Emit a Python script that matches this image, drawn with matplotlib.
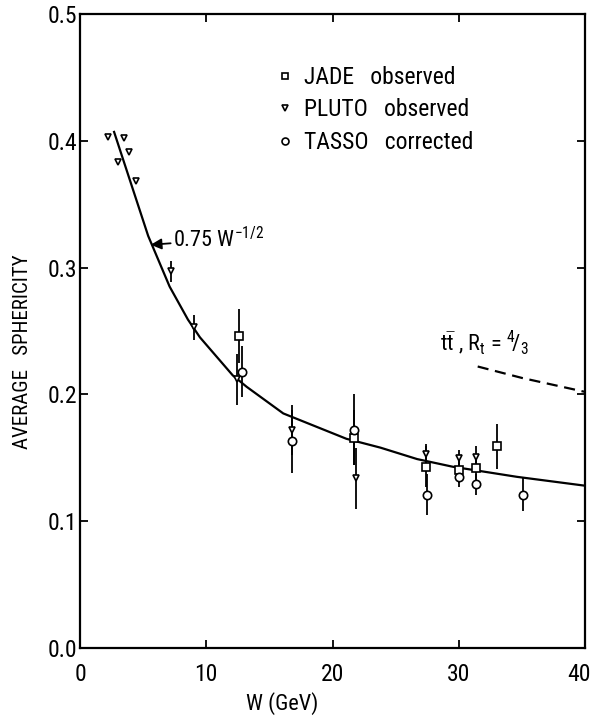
import matplotlib.pyplot as plt
from matplotlib import font_manager
from matplotlib.lines import Line2D
from matplotlib.transforms import ScaledTranslation

# font condensato come nell'originale, se disponibile
installed = {f.name for f in font_manager.fontManager.ttflist}
candidates = ['Liberation Sans Narrow', 'Roboto Condensed', 'Open Sans Condensed',
              'DejaVu Sans Condensed', 'Noto Sans Condensed', 'DejaVu Sans']
family = [c for c in candidates if c in installed] + ['DejaVu Sans']
plt.rcParams['font.family'] = family
plt.rcParams['font.stretch'] = 'condensed'
plt.rcParams['mathtext.fontset'] = 'custom'
plt.rcParams['mathtext.rm'] = family[0]
plt.rcParams['mathtext.it'] = family[0]
plt.rcParams['mathtext.bf'] = family[0]

# PLUTO observed
pluto_w = [2.2, 3.0, 3.5, 3.9, 4.4, 7.2, 9.0, 12.4, 16.8, 21.9, 27.4, 30.0, 31.4]
pluto_s = [0.403, 0.383, 0.402, 0.391, 0.368, 0.297, 0.253, 0.212, 0.172, 0.134, 0.153, 0.150, 0.151]
pluto_err = [0, 0, 0, 0, 0, 0.008, 0.010, 0.020, 0.020, 0.024, 0.008, 0.006, 0.008]

# JADE observed
jade_w = [12.6, 21.7, 27.4, 30.0, 31.4, 33.0]
jade_s = [0.246, 0.166, 0.143, 0.140, 0.142, 0.159]
jade_err = [0.021, 0.022, 0.016, 0.010, 0.010, 0.018]

# TASSO corrected
tasso_w = [12.8, 16.8, 21.7, 27.5, 30.0, 31.4, 35.1]
tasso_s = [0.218, 0.163, 0.172, 0.121, 0.135, 0.129, 0.121]
tasso_err = [0.020, 0.025, 0.028, 0.016, 0.008, 0.008, 0.013]

# curva 0.75 W^-1/2
curve_w = [2.7, 5.4, 7.1, 8.55, 9.5, 12.1, 13.2, 16.1, 21.1, 23.8, 26.7, 29.5, 34.6, 40.0]
curve_s = [0.407, 0.325, 0.285, 0.259, 0.245, 0.215, 0.206, 0.185, 0.165, 0.158, 0.149, 0.143, 0.135, 0.128]

# previsione t tbar
ttbar_w = [31.5, 35.0, 40.0]
ttbar_s = [0.222, 0.213, 0.202]

fig = plt.figure(figsize=(5.94, 7.19), dpi=100)
ax = fig.add_axes([80 / 594, 1 - 648 / 719, 505 / 594, 634 / 719])

ax.plot(curve_w, curve_s, color='k', lw=1.6, zorder=2)
ax.plot(ttbar_w, ttbar_s, color='k', lw=1.6, dashes=(5, 3), zorder=2)

# barre d'errore e marker
for w, s, e in [(pluto_w, pluto_s, pluto_err), (jade_w, jade_s, jade_err), (tasso_w, tasso_s, tasso_err)]:
    ax.errorbar(w, s, yerr=e, fmt='none', ecolor='k', elinewidth=1.3, capsize=0, zorder=3)
ax.plot(pluto_w, pluto_s, 'v', ms=5, mfc='white', mec='k', mew=1.2, ls='none', zorder=4)
ax.plot(jade_w, jade_s, 's', ms=6, mfc='white', mec='k', mew=1.2, ls='none', zorder=4)
ax.plot(tasso_w, tasso_s, 'o', ms=6, mfc='white', mec='k', mew=1.2, ls='none', zorder=4)

ax.set_xlim(0, 40)
ax.set_ylim(0, 0.5)
ax.set_xticks([0, 10, 20, 30, 40])
ax.set_yticks([0.0, 0.1, 0.2, 0.3, 0.4, 0.5])
ax.set_yticklabels(['0.0', '0.1', '0.2', '0.3', '0.4', '0.5'])
ax.tick_params(direction='in', length=6, width=1.3, top=True, right=True, labelsize=17)
ax.tick_params(axis='x', pad=11)
ax.tick_params(axis='y', pad=2)
for sp in ax.spines.values():
    sp.set_linewidth(1.6)

# l'etichetta "40" spostata un po' a sinistra per non uscire dal bordo
last = ax.get_xticklabels()[-1]
last.set_transform(last.get_transform() + ScaledTranslation(-6 / 100, 0, fig.dpi_scale_trans))

ax.annotate(r'0.75 W$^{-1/2}$', xy=(5.6, 0.318), xytext=(7.4, 0.322), fontsize=16, va='center',
            arrowprops=dict(arrowstyle='-|>', color='k', lw=1.3, shrinkA=0, shrinkB=0))
ax.text(28.5, 0.241, r't$\bar{\rm t}$ , R$_{\rm t}$ = $^{4}\!/_{3}$', fontsize=16, va='center')

ax.set_xlabel('W (GeV)', fontsize=16)
ax.xaxis.set_label_coords((282 - 80) / 505, -(692 - 648) / 634)
ax.set_ylabel('AVERAGE   SPHERICITY', fontsize=15)
ax.yaxis.set_label_coords(-(80 - 32) / 505, (648 - 352) / 634)

handles = [
    Line2D([], [], marker='s', ms=5, mfc='white', mec='k', mew=1.2, ls='none'),
    Line2D([], [], marker='v', ms=4, mfc='white', mec='k', mew=1.2, ls='none'),
    Line2D([], [], marker='o', ms=5, mfc='white', mec='k', mew=1.2, ls='none'),
]
labels = ['JADE   observed', 'PLUTO   observed', 'TASSO   corrected']
ax.legend(handles, labels, loc='upper left', bbox_to_anchor=(278 / 594, 1 - 66 / 719),
          bbox_transform=fig.transFigure, frameon=False, fontsize=17, handlelength=0.6,
          handletextpad=0.5, borderpad=0, borderaxespad=0, labelspacing=0.4)

fig.savefig('out.png', dpi=100)
